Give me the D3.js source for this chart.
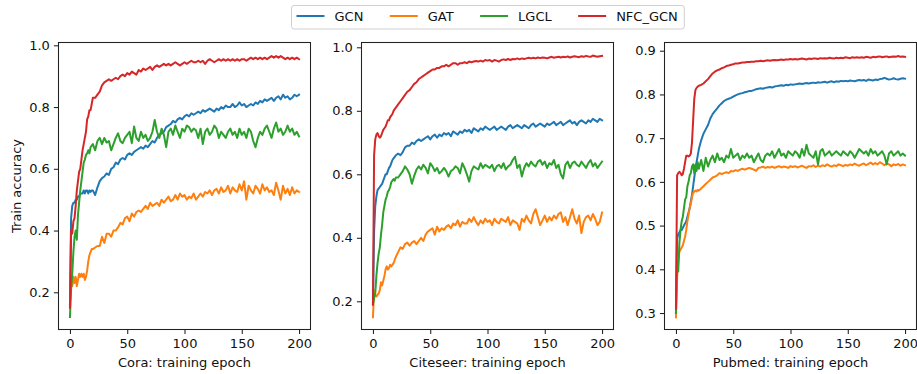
<!DOCTYPE html>
<html><head><meta charset="utf-8">
<script src="https://cdn.jsdelivr.net/npm/d3@7/dist/d3.min.js"></script>
<style>body{margin:0;background:#fff} text{font-family:"DejaVu Sans",sans-serif}</style>
</head><body><svg id="c" width="917" height="374"></svg>
<script>
const epochs = [0,1,2,3,4,5,6,7,8,9,10,11,12,13,14,15,16,17,18,19,20,
 22,24,26,28,30,32,34,36,38,40,
 42,44,46,48,50,52,54,56,58,60,
 62,64,66,68,70,72,74,76,78,80,
 82,84,86,88,90,92,94,96,98,100,
 102,104,106,108,110,112,114,116,118,120,
 122,124,126,128,130,132,134,136,138,140,
 142,144,146,148,150,152,154,156,158,160,
 162,164,166,168,170,172,174,176,178,180,
 182,184,186,188,190,192,194,196,198,200];
const methods = ["GCN","GAT","LGCL","NFC_GCN"];
const colors = ["#1f77b4","#ff7f0e","#2ca02c","#d62728"];
const datasets = ["Cora","Citeseer","Pubmed"];
const xTicks = [0,50,100,150,200];
const yTicksCora = [0.2,0.4,0.6,0.8,1.0];
const yTicksCiteseer = [0.2,0.4,0.6,0.8,1.0];
const yTicksPubmed = [0.3,0.4,0.5,0.6,0.7,0.8,0.9];

// ---- Cora ----
const coraGCN = [0.16,0.44,0.48,0.49,0.49,0.50,0.50,0.51,0.51,0.52,0.52,0.52,0.53,0.52,0.53,0.53,0.52,0.53,0.525,0.53,0.53,
 0.515,0.54,0.56,0.57,0.575,0.585,0.58,0.60,0.605,0.62,
 0.615,0.63,0.635,0.63,0.645,0.65,0.645,0.655,0.66,0.665,
 0.67,0.665,0.675,0.67,0.68,0.69,0.685,0.70,0.71,0.715,
 0.72,0.735,0.74,0.745,0.755,0.75,0.76,0.765,0.76,0.77,
 0.775,0.77,0.78,0.775,0.78,0.785,0.78,0.79,0.785,0.79,
 0.795,0.79,0.785,0.795,0.79,0.80,0.795,0.805,0.80,0.80,
 0.81,0.80,0.805,0.815,0.805,0.81,0.80,0.805,0.81,0.805,
 0.815,0.81,0.82,0.815,0.825,0.82,0.825,0.83,0.82,0.83,
 0.835,0.825,0.84,0.83,0.835,0.825,0.83,0.84,0.835,0.84];
const coraGAT = [0.16,0.24,0.22,0.25,0.23,0.25,0.22,0.24,0.26,0.25,0.26,0.25,0.26,0.24,0.25,0.27,0.30,0.32,0.33,0.34,0.34,
 0.345,0.35,0.35,0.38,0.36,0.39,0.39,0.38,0.40,0.40,
 0.41,0.425,0.42,0.44,0.445,0.43,0.455,0.445,0.46,0.465,
 0.46,0.47,0.48,0.47,0.49,0.48,0.485,0.49,0.48,0.50,
 0.49,0.50,0.51,0.495,0.50,0.515,0.50,0.52,0.51,0.515,
 0.50,0.51,0.505,0.52,0.50,0.51,0.52,0.51,0.525,0.52,
 0.53,0.515,0.53,0.535,0.52,0.54,0.525,0.53,0.545,0.52,
 0.54,0.53,0.525,0.55,0.53,0.56,0.50,0.545,0.53,0.52,
 0.545,0.535,0.52,0.55,0.53,0.54,0.525,0.53,0.515,0.555,
 0.53,0.50,0.545,0.52,0.535,0.515,0.54,0.52,0.53,0.525];
const coraLGCL = [0.12,0.21,0.26,0.33,0.38,0.40,0.37,0.45,0.49,0.53,0.56,0.59,0.62,0.63,0.645,0.65,0.66,0.65,0.67,0.675,0.68,
 0.66,0.69,0.70,0.68,0.70,0.685,0.69,0.66,0.68,0.70,
 0.715,0.69,0.683,0.70,0.71,0.72,0.683,0.737,0.70,0.69,
 0.72,0.70,0.71,0.69,0.70,0.72,0.758,0.72,0.70,0.73,
 0.71,0.67,0.72,0.73,0.71,0.74,0.72,0.70,0.73,0.72,
 0.74,0.735,0.72,0.73,0.725,0.70,0.73,0.68,0.72,0.73,
 0.71,0.72,0.74,0.73,0.70,0.72,0.71,0.70,0.72,0.73,
 0.71,0.72,0.70,0.73,0.71,0.72,0.70,0.73,0.72,0.69,
 0.67,0.70,0.72,0.71,0.73,0.74,0.72,0.70,0.73,0.75,
 0.72,0.73,0.71,0.72,0.74,0.72,0.73,0.71,0.72,0.705];
const coraNFC = [0.15,0.40,0.39,0.43,0.44,0.48,0.53,0.56,0.59,0.60,0.63,0.66,0.68,0.70,0.72,0.76,0.77,0.79,0.79,0.81,0.83,
 0.83,0.84,0.85,0.87,0.88,0.885,0.89,0.885,0.89,0.895,
 0.89,0.90,0.905,0.90,0.91,0.905,0.915,0.91,0.905,0.92,
 0.915,0.925,0.92,0.925,0.93,0.92,0.93,0.935,0.93,0.935,
 0.94,0.935,0.94,0.935,0.94,0.945,0.94,0.935,0.94,0.945,
 0.94,0.945,0.95,0.945,0.945,0.95,0.945,0.95,0.94,0.95,
 0.955,0.95,0.945,0.95,0.955,0.95,0.955,0.95,0.955,0.95,
 0.955,0.95,0.955,0.95,0.955,0.955,0.95,0.955,0.96,0.955,
 0.96,0.955,0.96,0.955,0.96,0.955,0.96,0.965,0.96,0.965,
 0.96,0.965,0.96,0.955,0.96,0.955,0.96,0.955,0.96,0.955];

// ---- Citeseer ----
const citeGCN = [0.19,0.42,0.50,0.53,0.55,0.555,0.56,0.565,0.57,0.58,0.59,0.60,0.60,0.61,0.62,0.625,0.635,0.645,0.65,0.655,0.66,
 0.665,0.66,0.67,0.685,0.69,0.69,0.70,0.695,0.705,0.71,
 0.705,0.71,0.715,0.72,0.71,0.72,0.725,0.715,0.725,0.72,
 0.73,0.725,0.73,0.72,0.735,0.73,0.725,0.735,0.73,0.74,
 0.735,0.74,0.73,0.745,0.74,0.735,0.745,0.74,0.75,0.745,
 0.74,0.745,0.75,0.74,0.745,0.75,0.745,0.74,0.75,0.755,
 0.745,0.75,0.755,0.75,0.745,0.755,0.75,0.745,0.755,0.76,
 0.75,0.755,0.76,0.755,0.75,0.76,0.755,0.76,0.765,0.755,
 0.76,0.765,0.755,0.76,0.765,0.77,0.76,0.765,0.755,0.765,
 0.77,0.765,0.76,0.77,0.765,0.775,0.77,0.765,0.775,0.77];
const citeGAT = [0.15,0.235,0.22,0.215,0.22,0.225,0.235,0.26,0.25,0.265,0.28,0.30,0.31,0.30,0.305,0.315,0.31,0.315,0.32,0.33,0.34,
 0.355,0.37,0.365,0.38,0.385,0.375,0.385,0.39,0.38,0.39,
 0.40,0.39,0.41,0.42,0.425,0.43,0.41,0.435,0.42,0.43,
 0.425,0.435,0.44,0.43,0.445,0.44,0.455,0.435,0.45,0.445,
 0.445,0.46,0.45,0.465,0.45,0.44,0.455,0.445,0.46,0.45,
 0.455,0.44,0.46,0.45,0.445,0.46,0.455,0.45,0.465,0.44,
 0.455,0.45,0.445,0.425,0.46,0.45,0.47,0.455,0.445,0.475,
 0.49,0.465,0.44,0.455,0.47,0.45,0.465,0.455,0.47,0.46,
 0.475,0.48,0.45,0.465,0.44,0.465,0.49,0.46,0.445,0.47,
 0.415,0.45,0.465,0.47,0.455,0.475,0.46,0.44,0.45,0.48];
const citeLGCL = [0.19,0.21,0.225,0.28,0.32,0.35,0.37,0.41,0.44,0.48,0.50,0.52,0.53,0.545,0.55,0.56,0.575,0.58,0.585,0.58,0.59,
 0.59,0.60,0.61,0.625,0.615,0.60,0.57,0.595,0.615,0.625,
 0.615,0.63,0.62,0.603,0.635,0.625,0.61,0.62,0.603,0.61,
 0.62,0.61,0.593,0.61,0.615,0.625,0.62,0.603,0.635,0.62,
 0.60,0.577,0.61,0.625,0.62,0.615,0.635,0.62,0.63,0.625,
 0.62,0.63,0.61,0.625,0.63,0.62,0.635,0.615,0.625,0.63,
 0.645,0.655,0.62,0.63,0.593,0.62,0.635,0.625,0.64,0.63,
 0.625,0.64,0.645,0.63,0.64,0.62,0.635,0.63,0.645,0.62,
 0.63,0.60,0.587,0.63,0.64,0.62,0.635,0.64,0.63,0.625,
 0.64,0.63,0.62,0.635,0.645,0.625,0.635,0.62,0.63,0.64];
const citeNFC = [0.19,0.66,0.71,0.725,0.73,0.72,0.715,0.72,0.73,0.74,0.745,0.75,0.76,0.77,0.77,0.78,0.785,0.79,0.80,0.805,0.81,
 0.82,0.83,0.84,0.85,0.86,0.865,0.875,0.885,0.89,0.90,
 0.905,0.91,0.915,0.92,0.925,0.93,0.93,0.935,0.935,0.94,
 0.94,0.945,0.94,0.945,0.95,0.95,0.945,0.95,0.95,0.953,
 0.95,0.955,0.953,0.955,0.957,0.955,0.958,0.955,0.96,0.958,
 0.96,0.955,0.96,0.958,0.955,0.96,0.962,0.96,0.963,0.96,
 0.963,0.962,0.965,0.962,0.965,0.963,0.965,0.967,0.965,0.967,
 0.965,0.968,0.966,0.968,0.967,0.965,0.968,0.97,0.967,0.969,
 0.97,0.968,0.97,0.969,0.971,0.968,0.97,0.972,0.97,0.969,
 0.972,0.97,0.973,0.971,0.97,0.974,0.972,0.97,0.972,0.973];

// ---- Pubmed ----
const pubGCN = [0.30,0.47,0.48,0.485,0.49,0.49,0.495,0.50,0.505,0.51,0.52,0.53,0.54,0.555,0.57,0.59,0.61,0.63,0.645,0.66,0.675,
 0.695,0.71,0.72,0.73,0.745,0.755,0.762,0.768,0.775,0.78,
 0.785,0.788,0.79,0.792,0.795,0.798,0.80,0.802,0.803,0.805,
 0.806,0.808,0.808,0.81,0.812,0.813,0.814,0.813,0.815,0.816,
 0.817,0.816,0.818,0.819,0.82,0.821,0.82,0.822,0.821,0.823,
 0.822,0.823,0.824,0.825,0.824,0.825,0.826,0.825,0.826,0.827,
 0.826,0.828,0.827,0.828,0.829,0.827,0.829,0.83,0.828,0.83,
 0.829,0.831,0.83,0.831,0.83,0.832,0.831,0.83,0.832,0.833,
 0.832,0.833,0.831,0.834,0.833,0.832,0.834,0.833,0.835,0.836,
 0.838,0.836,0.834,0.835,0.837,0.835,0.834,0.836,0.837,0.836];
const pubGAT = [0.29,0.38,0.42,0.44,0.445,0.45,0.455,0.465,0.475,0.49,0.51,0.525,0.54,0.55,0.565,0.575,0.578,0.58,0.578,0.582,0.58,
 0.585,0.59,0.595,0.60,0.605,0.61,0.612,0.615,0.62,0.618,
 0.62,0.622,0.62,0.625,0.624,0.627,0.625,0.628,0.63,0.628,
 0.63,0.632,0.63,0.628,0.625,0.632,0.633,0.635,0.632,0.634,
 0.633,0.635,0.632,0.634,0.636,0.633,0.635,0.634,0.632,0.636,
 0.634,0.636,0.633,0.635,0.637,0.634,0.632,0.636,0.635,0.638,
 0.634,0.637,0.635,0.638,0.636,0.64,0.637,0.635,0.638,0.636,
 0.64,0.638,0.636,0.639,0.637,0.64,0.638,0.642,0.639,0.637,
 0.64,0.642,0.638,0.641,0.644,0.64,0.643,0.64,0.645,0.642,
 0.638,0.642,0.64,0.636,0.64,0.638,0.641,0.637,0.64,0.638];
const pubLGCL = [0.30,0.42,0.395,0.46,0.49,0.51,0.52,0.54,0.56,0.565,0.59,0.60,0.615,0.62,0.635,0.64,0.62,0.64,0.625,0.645,0.63,
 0.65,0.625,0.655,0.635,0.65,0.66,0.645,0.665,0.65,0.655,
 0.645,0.66,0.655,0.675,0.655,0.66,0.665,0.65,0.66,0.655,
 0.665,0.655,0.66,0.645,0.655,0.665,0.65,0.645,0.66,0.665,
 0.66,0.67,0.655,0.665,0.675,0.66,0.665,0.655,0.67,0.665,
 0.66,0.67,0.665,0.655,0.675,0.66,0.685,0.665,0.66,0.655,
 0.67,0.64,0.67,0.675,0.66,0.665,0.67,0.66,0.665,0.67,
 0.665,0.66,0.67,0.665,0.66,0.67,0.665,0.655,0.665,0.675,
 0.67,0.665,0.67,0.66,0.675,0.665,0.67,0.66,0.665,0.67,
 0.66,0.64,0.665,0.67,0.66,0.665,0.67,0.66,0.665,0.66];
const pubNFC = [0.31,0.615,0.62,0.623,0.62,0.615,0.618,0.63,0.645,0.66,0.66,0.658,0.66,0.665,0.69,0.74,0.79,0.81,0.815,0.818,0.82,
 0.822,0.825,0.83,0.835,0.842,0.848,0.852,0.855,0.857,0.86,
 0.862,0.865,0.866,0.868,0.869,0.871,0.871,0.872,0.873,0.873,
 0.874,0.874,0.875,0.875,0.876,0.876,0.877,0.876,0.877,0.878,
 0.877,0.878,0.879,0.878,0.879,0.88,0.879,0.88,0.88,0.881,
 0.88,0.881,0.88,0.881,0.882,0.881,0.88,0.882,0.881,0.882,
 0.882,0.881,0.883,0.882,0.883,0.882,0.884,0.883,0.882,0.884,
 0.883,0.884,0.883,0.885,0.884,0.883,0.885,0.884,0.885,0.884,
 0.885,0.884,0.886,0.885,0.884,0.886,0.885,0.886,0.887,0.885,
 0.886,0.887,0.885,0.886,0.887,0.886,0.888,0.886,0.887,0.886];

// ---- layout ----
const svg = d3.select("#c");
const FS = 13;
const plotTop = 42.5, plotBottom = 329.5, pw = 252;
const panels = [
  {name: datasets[0], series: [coraGCN, coraGAT, coraLGCL, coraNFC], yDomain: [0.0795, 1.0091], yTicks: yTicksCora, left: 58.5},
  {name: datasets[1], series: [citeGCN, citeGAT, citeLGCL, citeNFC], yDomain: [0.1112, 1.0151], yTicks: yTicksCiteseer, left: 361.5},
  {name: datasets[2], series: [pubGCN, pubGAT, pubLGCL, pubNFC], yDomain: [0.2623, 0.9188], yTicks: yTicksPubmed, left: 664.5}
];
panels.forEach(p => p.series.forEach((s, i) => {
  if (s.length !== epochs.length) throw new Error(p.name + " " + methods[i] + " length " + s.length + " vs " + epochs.length);
}));

panels.forEach(p => {
  const x = d3.scaleLinear().domain([-10, 210]).range([p.left, p.left + pw]);
  const y = d3.scaleLinear().domain(p.yDomain).range([plotBottom, plotTop]);
  const g = svg.append("g");
  const line = d3.line().x((d, j) => x(epochs[j])).y(d => y(d));
  p.series.forEach((s, i) => {
    g.append("path").datum(s)
      .attr("fill", "none").attr("stroke", colors[i]).attr("stroke-width", 2)
      .attr("stroke-linejoin", "round").attr("stroke-linecap", "square")
      .attr("d", line);
  });
  const xa = g.append("g").attr("transform", `translate(0,${plotBottom})`)
    .call(d3.axisBottom(x).tickValues(xTicks).tickSize(4.6).tickPadding(5).tickFormat(d3.format("d")));
  const ya = g.append("g").attr("transform", `translate(${p.left},0)`)
    .call(d3.axisLeft(y).tickValues(p.yTicks).tickSize(4.6).tickPadding(4).tickFormat(d3.format(".1f")));
  [xa, ya].forEach(a => {
    a.select(".domain").remove();
    a.selectAll("text").attr("font-size", FS).attr("font-family", "DejaVu Sans").attr("fill", "#111");
    a.selectAll("line").attr("stroke", "#222").attr("stroke-width", 1.06);
  });
  g.append("rect").attr("x", p.left).attr("y", plotTop).attr("width", pw).attr("height", plotBottom - plotTop)
    .attr("fill", "none").attr("stroke", "#222").attr("stroke-width", 1.06);
  g.append("text").attr("x", p.left + pw / 2).attr("y", 367).attr("text-anchor", "middle")
    .attr("font-size", FS).attr("fill", "#111").text(p.name + ": training epoch");
});

svg.append("text").attr("transform", "translate(21.2,186) rotate(-90)").attr("text-anchor", "middle")
  .attr("font-size", FS).attr("fill", "#111").text("Train accuracy");

// legend
const leg = svg.append("g");
const legY = 16;
let cx = 296.5;
methods.forEach((m, i) => {
  leg.append("line").attr("x1", cx).attr("x2", cx + 28).attr("y1", legY).attr("y2", legY)
    .attr("stroke", colors[i]).attr("stroke-width", 2);
  const t = leg.append("text").attr("x", cx + 38).attr("y", legY + 4.6).attr("font-size", FS).attr("fill", "#111").text(m);
  cx = cx + 38 + t.node().getComputedTextLength() + 26.4;
});
const boxRight = cx - 26.4 + 6.5;
leg.insert("rect", "*").attr("x", 291.5).attr("y", 5.5).attr("width", boxRight - 291.5).attr("height", 23.5)
  .attr("rx", 2.5).attr("fill", "#fff").attr("stroke", "#d0d0d0").attr("stroke-width", 1);
</script>
</body></html>
